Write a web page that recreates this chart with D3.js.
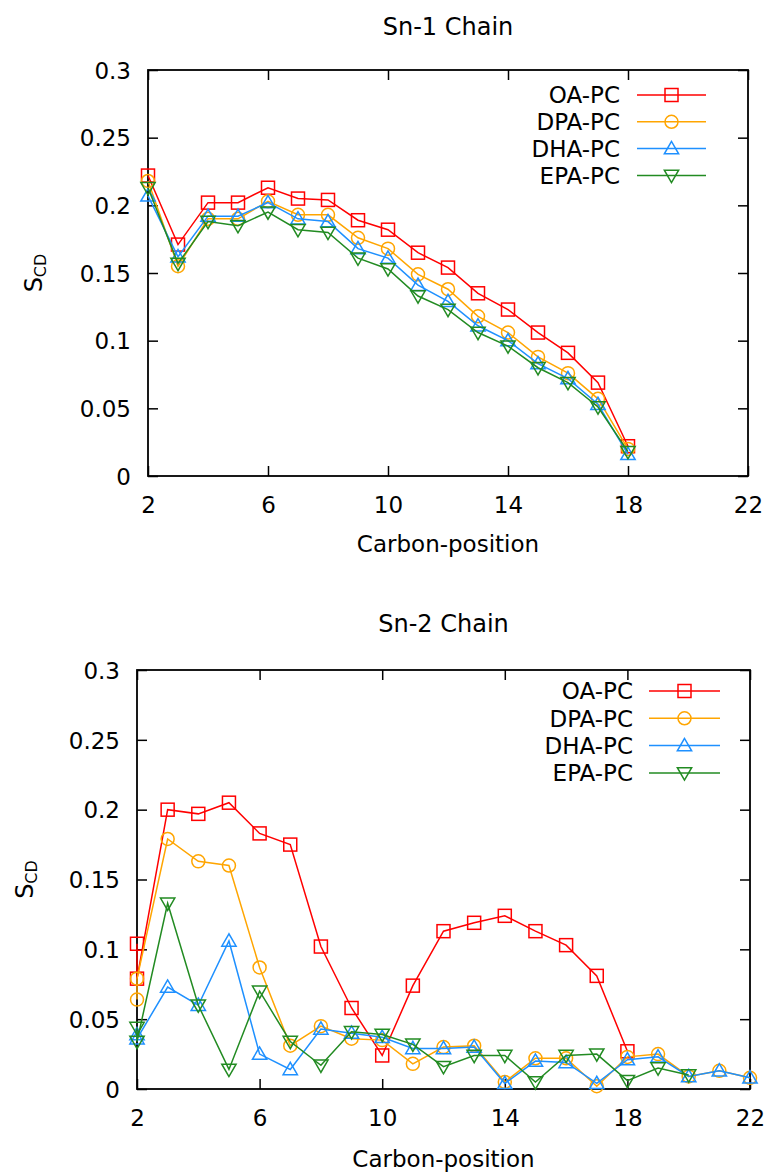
<!DOCTYPE html>
<html>
<head>
<meta charset="utf-8">
<script src="https://cdn.jsdelivr.net/npm/d3@7"></script>
<style>
  body { margin: 0; background: #fff; }
  text { font-family: "DejaVu Sans", sans-serif; }
</style>
</head>
<body>
<div id="chart"></div>
<script>
// ---- data ----
const seriesNames = ["OA-PC", "DPA-PC", "DHA-PC", "EPA-PC"];
const seriesColors = ["#ff0000", "#ffa500", "#1e90ff", "#228b22"];
const seriesShapes = ["square", "circle", "up", "down"];

const xTicks = [2, 6, 10, 14, 18, 22];
const yTicks = [0, 0.05, 0.1, 0.15, 0.2, 0.25, 0.3];
const yTickLabels = ["0", "0.05", "0.1", "0.15", "0.2", "0.25", "0.3"];

// Sn-1 chain
const sn1X = [2, 3, 4, 5, 6, 7, 8, 9, 10, 11, 12, 13, 14, 15, 16, 17, 18];
const sn1OA  = [0.222, 0.171, 0.202, 0.202, 0.213, 0.205, 0.204, 0.189, 0.182, 0.165, 0.154, 0.135, 0.123, 0.106, 0.091, 0.069, 0.022];
const sn1DPA = [0.218, 0.155, 0.190, 0.190, 0.203, 0.193, 0.193, 0.176, 0.168, 0.149, 0.138, 0.118, 0.106, 0.088, 0.076, 0.057, 0.020];
const sn1DHA = [0.207, 0.162, 0.192, 0.192, 0.202, 0.190, 0.188, 0.168, 0.161, 0.141, 0.129, 0.111, 0.100, 0.083, 0.072, 0.053, 0.016];
const sn1EPA = [0.213, 0.157, 0.188, 0.185, 0.195, 0.182, 0.180, 0.161, 0.153, 0.133, 0.123, 0.106, 0.096, 0.080, 0.069, 0.051, 0.018];

// Sn-2 chain (carbon 2 has two values)
const sn2OAx  = [2, 2, 3, 4, 5, 6, 7, 8, 9, 10, 11, 12, 13, 14, 15, 16, 17, 18];
const sn2OA   = [0.104, 0.079, 0.200, 0.197, 0.205, 0.183, 0.175, 0.102, 0.058, 0.024, 0.074, 0.113, 0.119, 0.124, 0.113, 0.103, 0.081, 0.027];
const sn2DPAx = [2, 2, 3, 4, 5, 6, 7, 8, 9, 10, 11, 12, 13, 14, 15, 16, 17, 18, 19, 20, 21, 22];
const sn2DPA  = [0.064, 0.079, 0.179, 0.163, 0.160, 0.087, 0.031, 0.045, 0.036, 0.035, 0.018, 0.030, 0.031, 0.005, 0.022, 0.022, 0.002, 0.023, 0.025, 0.009, 0.013, 0.008];
const sn2DHAx = [2, 2, 3, 4, 5, 6, 7, 8, 9, 10, 11, 12, 13, 14, 15, 16, 17, 18, 19, 20, 21, 22];
const sn2DHA  = [0.039, 0.036, 0.073, 0.060, 0.106, 0.025, 0.014, 0.043, 0.040, 0.037, 0.029, 0.029, 0.030, 0.004, 0.020, 0.019, 0.004, 0.021, 0.023, 0.009, 0.013, 0.008];
const sn2EPAx = [2, 2, 3, 4, 5, 6, 7, 8, 9, 10, 11, 12, 13, 14, 15, 16, 17, 18, 19, 20];
const sn2EPA  = [0.044, 0.034, 0.133, 0.060, 0.014, 0.070, 0.034, 0.017, 0.041, 0.039, 0.032, 0.016, 0.024, 0.024, 0.005, 0.024, 0.025, 0.006, 0.015, 0.010];

// ---- layout ----
const W = 770, H = 1173;
const svg = d3.select("#chart").append("svg")
  .attr("width", W).attr("height", H);

const panels = [
  {
    title: "Sn-1 Chain", titleY: 35,
    left: 148, right: 748, top: 70, bottom: 476, xlabY: 552, ylabX: 42,
    legX: 620, legY: 95, legDy: 26.8, legL: 637, legR: 706,
    xs: [sn1X, sn1X, sn1X, sn1X], ys: [sn1OA, sn1DPA, sn1DHA, sn1EPA]
  },
  {
    title: "Sn-2 Chain", titleY: 632,
    left: 137, right: 750, top: 670, bottom: 1089, xlabY: 1167, ylabX: 33,
    legX: 633, legY: 691, legDy: 27.3, legL: 649, legR: 720,
    xs: [sn2OAx, sn2DPAx, sn2DHAx, sn2EPAx], ys: [sn2OA, sn2DPA, sn2DHA, sn2EPA]
  }
];

function marker(g, shape, x, y, color) {
  const s = 6.5;
  if (shape === "square") {
    g.append("rect").attr("x", x - s).attr("y", y - s).attr("width", 2 * s).attr("height", 2 * s)
      .attr("fill", "none").attr("stroke", color).attr("stroke-width", 1.5);
  } else if (shape === "circle") {
    g.append("circle").attr("cx", x).attr("cy", y).attr("r", s)
      .attr("fill", "none").attr("stroke", color).attr("stroke-width", 1.5);
  } else {
    const d = shape === "up" ? 1 : -1;
    const pts = [[x, y - d * s * 1.1], [x - s * 1.1, y + d * s * 0.8], [x + s * 1.1, y + d * s * 0.8]];
    g.append("path").attr("d", "M" + pts.map(p => p.join(",")).join("L") + "Z")
      .attr("fill", "none").attr("stroke", color).attr("stroke-width", 1.5);
  }
}

panels.forEach(p => {
  const x = d3.scaleLinear().domain([2, 22]).range([p.left, p.right]);
  const y = d3.scaleLinear().domain([0, 0.3]).range([p.bottom, p.top]);
  const g = svg.append("g");

  // title
  g.append("text").attr("x", (p.left + p.right) / 2).attr("y", p.titleY)
    .attr("text-anchor", "middle").style("font-size", "24px").text(p.title);

  // axes with inward ticks on all four sides
  const tick = 10;
  const axB = g.append("g").attr("transform", "translate(0," + p.bottom + ")")
    .call(d3.axisBottom(x).tickValues(xTicks).tickSize(-tick).tickFormat(d3.format("d")));
  const axT = g.append("g").attr("transform", "translate(0," + p.top + ")")
    .call(d3.axisTop(x).tickValues(xTicks).tickSize(-tick).tickFormat(""));
  const axL = g.append("g").attr("transform", "translate(" + p.left + ",0)")
    .call(d3.axisLeft(y).tickValues(yTicks).tickSize(-tick).tickFormat((d, i) => yTickLabels[i]));
  const axR = g.append("g").attr("transform", "translate(" + p.right + ",0)")
    .call(d3.axisRight(y).tickValues(yTicks).tickSize(-tick).tickFormat(""));
  [axB, axT, axL, axR].forEach(a => {
    a.select(".domain").remove();
    a.selectAll(".tick line").attr("stroke", "#000").attr("stroke-width", 1.5);
    a.selectAll("text").style("font-size", "23px").attr("fill", "#000")
      .style("font-family", '"DejaVu Sans", sans-serif');
  });
  axL.selectAll("text").attr("x", -17).attr("dy", "0.36em");
  axB.selectAll("text").attr("y", 29).attr("dy", "0.36em");
  g.append("rect").attr("x", p.left).attr("y", p.top)
    .attr("width", p.right - p.left).attr("height", p.bottom - p.top)
    .attr("fill", "none").attr("stroke", "#000").attr("stroke-width", 1.8);

  // axis labels
  g.append("text").attr("x", (p.left + p.right) / 2).attr("y", p.xlabY)
    .attr("text-anchor", "middle").style("font-size", "23px").text("Carbon-position");
  const yl = g.append("text")
    .attr("transform", "translate(" + p.ylabX + "," + ((p.top + p.bottom) / 2) + ") rotate(-90)")
    .attr("text-anchor", "middle").style("font-size", "24px");
  yl.append("tspan").text("S");
  yl.append("tspan").attr("dy", 4).style("font-size", "16px").text("CD");

  // series
  const line = d3.line().x(d => x(d[0])).y(d => y(d[1]));
  seriesNames.forEach((name, i) => {
    const pts = p.xs[i].map((xv, j) => [xv, p.ys[i][j]]);
    const sg = g.append("g");
    sg.append("path").datum(pts).attr("d", line)
      .attr("fill", "none").attr("stroke", seriesColors[i]).attr("stroke-width", 1.5);
    pts.forEach(d => marker(sg, seriesShapes[i], x(d[0]), y(d[1]), seriesColors[i]));

    // legend
    const ly = p.legY + i * p.legDy;
    g.append("text").attr("x", p.legX).attr("y", ly).attr("dy", "0.36em")
      .attr("text-anchor", "end").style("font-size", "23px").text(name);
    g.append("line").attr("x1", p.legL).attr("x2", p.legR).attr("y1", ly).attr("y2", ly)
      .attr("stroke", seriesColors[i]).attr("stroke-width", 1.5);
    marker(g, seriesShapes[i], (p.legL + p.legR) / 2, ly, seriesColors[i]);
  });
});
</script>
</body>
</html>
